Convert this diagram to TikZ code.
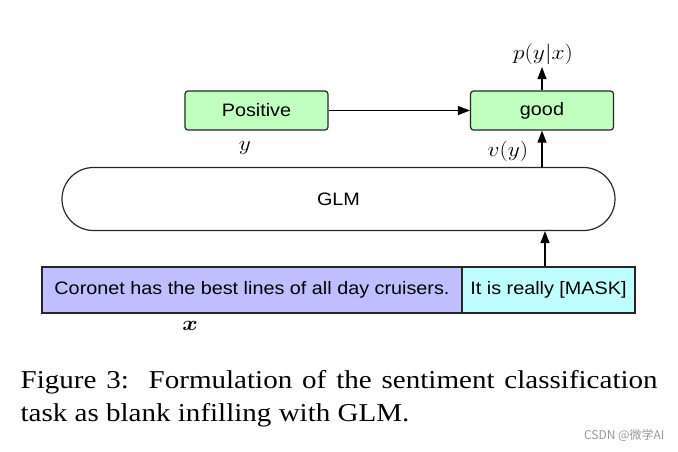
\documentclass[tikz,border=0pt]{standalone}
\usepackage{amsmath}
\usepackage[no-math]{fontspec}
\setmainfont{Liberation Serif}[FakeStretch=1.13]
\newfontfamily\boxfont{Liberation Sans}[FakeStretch=1.1]
\newfontfamily\cjkfont{Noto Sans CJK SC}
\usetikzlibrary{arrows.meta, shapes.misc}

\definecolor{wordgreen}{HTML}{C0FFC0}
\definecolor{sentpurple}{HTML}{BFBFFF}
\definecolor{maskcyan}{HTML}{BFFFFF}

\tikzset{
  every box/.style={draw=black!85, line width=1.2pt, inner sep=0pt,
    font=\boxfont\fontsize{18}{21}\selectfont},
  word box/.style={every box, rounded corners=3pt, fill=wordgreen,
    minimum width=143pt, minimum height=39pt},
  model box/.style={every box, rounded rectangle, fill=white,
    minimum width=553pt, minimum height=63pt},
  text box/.style={every box, minimum height=46pt},
  math label/.style={inner sep=0pt, xscale=1.13, transform shape,
    font=\fontsize{20.3}{24}\selectfont},
  caption line/.style={anchor=base west, inner sep=0pt,
    font=\fontsize{25.7}{31}\selectfont},
}

\begin{document}
\begin{tikzpicture}[x=1pt, y=-1pt, >={Triangle[length=12pt, width=9pt]}, line width=1.3pt]
  \fill[white] (0,0) rectangle (678,451);
  \useasboundingbox (0,0) rectangle (678,451);

  \node [word box] (positive) at (256.5,110.5) {Positive};
  \node [word box] (good) at (542,110.5) {good};
  \node [model box] (glm) at (338.5,199) {GLM};
  \node [text box, fill=sentpurple, minimum width=420pt] (sentence) at (252,290)
    {Coronet has the best lines of all day cruisers.};
  \node [text box, fill=maskcyan, minimum width=173pt] (mask) at (548.5,290)
    {It is really [MASK]};

  \node [math label] (pyx) at (543,54) {$p(y|x)$};
  \node [math label] (ylab) at (245,148) {$y$};
  \node [math label] (vy) at (508,151) {$v(y)$};
  \node [math label] (xlab) at (190,326) {$\boldsymbol{x}$};

  \draw [->] (positive) -- (good);
  \draw [->, shorten >=2pt] (good) -- (good |- pyx.south);
  \draw [->] (glm.north -| good) -- (good.south);
  \draw [->] ([xshift=-3.5pt]mask.north) -- ([xshift=-3.5pt]mask.north |- glm.south);

  % caption and watermark
  \node [caption line] (cap1) at (20,388)
    {\makebox[637pt][s]{Figure 3:\ \ Formulation of the sentiment classification}};
  \node [caption line] (cap2) at (20,421) {task as blank infilling with GLM.};
  \node [anchor=east, inner sep=0pt, text=black!40,
    font=\cjkfont\fontsize{12}{14}\selectfont] (mark) at (665,435) {CSDN @微学AI};
\end{tikzpicture}
\end{document}
